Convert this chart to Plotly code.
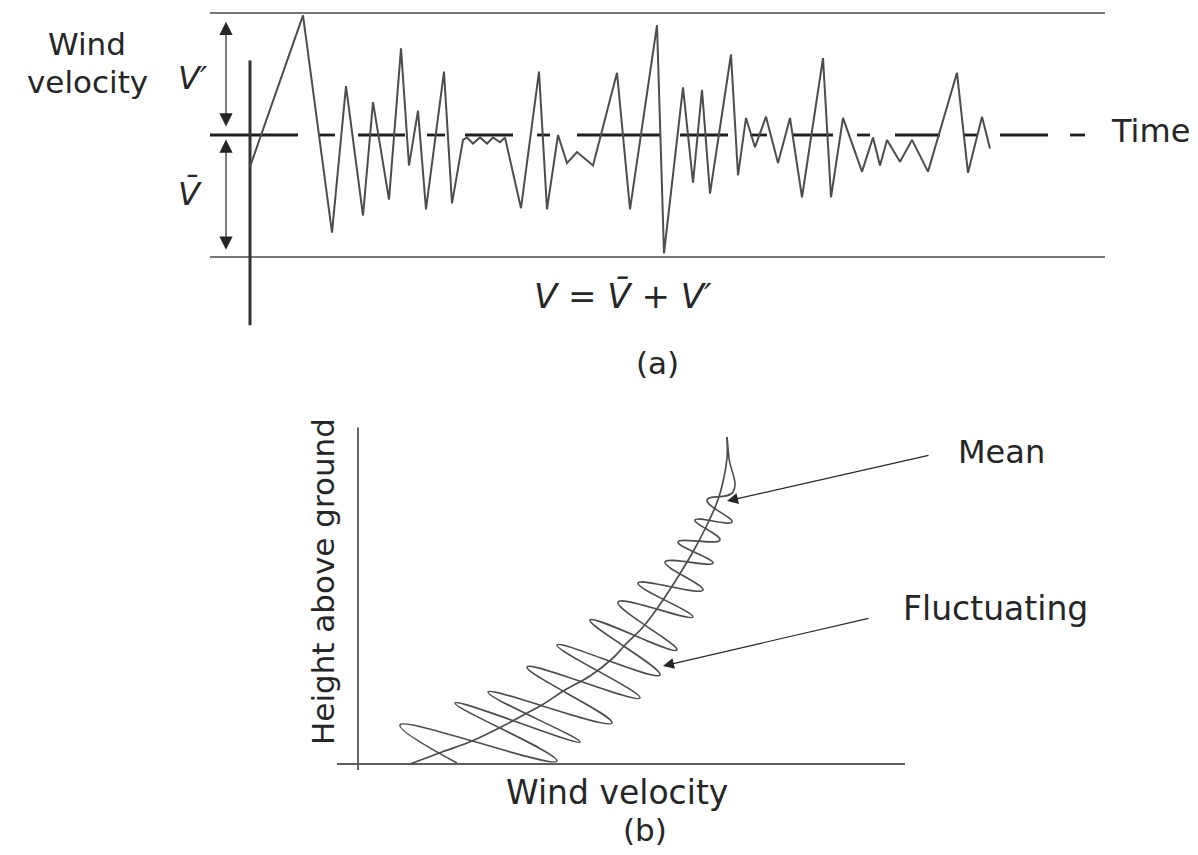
import plotly.graph_objects as go

# ---------------- Panel (a): wind velocity record V = Vbar + V' ----------------
time_s = [0.0, 5.3, 8.2, 9.6, 11.3, 12.3, 13.9, 15.1, 15.9, 16.8, 17.6, 19.4, 20.2,
          21.3, 21.7, 22.3, 23.0, 23.7, 24.3, 25.0, 25.5, 27.1, 28.9, 29.7, 30.8,
          31.7, 32.7, 34.3, 36.7, 38.0, 40.7, 41.4, 43.3, 44.3, 45.2, 46.0, 48.1,
          48.8, 49.6, 50.5, 51.6, 52.8, 54.0, 55.2, 57.3, 58.1, 59.3, 61.2, 62.3,
          63.0, 63.7, 65.0, 66.2, 67.8, 70.7, 71.8, 73.2, 74.0]
velocity = [7.4, 19.8, 2.0, 14.0, 3.4, 12.7, 4.7, 17.1, 7.5, 12.0, 3.9, 15.2, 4.4,
            9.6, 9.8, 9.3, 9.8, 9.3, 9.8, 9.4, 9.8, 4.0, 15.2, 3.9, 10.0,
            7.7, 8.6, 7.5, 15.1, 3.9, 19.0, 0.3, 13.9, 6.1, 13.7, 5.2, 16.6,
            6.7, 11.4, 9.0, 11.5, 7.7, 11.4, 4.9, 16.3, 4.9, 11.4, 7.0, 9.8,
            7.5, 9.6, 7.8, 9.6, 7.0, 15.1, 6.9, 11.5, 8.9]
mean_velocity = 10.0
upper_level = 20.0
lower_level = 0.0
record_start, record_end = -4.0, 85.5
mean_dash_start = [-4.0, 6.8, 10.8, 17.7, 21.5, 28.7, 32.7, 43.0, 50.0, 54.3, 60.7, 64.5, 71.3, 75.0, 82.0]
mean_dash_end = [4.8, 8.5, 15.5, 19.5, 26.3, 30.0, 41.0, 47.8, 51.7, 58.3, 62.0, 69.0, 72.8, 79.8, 83.5]
axis_a_bottom, axis_a_top = -5.6, 16.1
arrow_a_time = -2.4

# ---------------- Panel (b): velocity profile with height ----------------
mean_profile_u = [5.2, 8.4, 11.4, 14.7, 16.9, 18.4, 20.7, 23.2, 25.5, 26.7, 28.5, 30.5,
                  32.3, 33.6, 34.8, 35.8, 36.3, 36.9, 36.9]
mean_profile_h = [0.0, 1.2, 2.3, 3.9, 5.1, 5.9, 7.4, 8.8, 10.6, 11.9, 13.7, 16.4,
                  19.2, 21.4, 23.7, 25.9, 27.4, 30.6, 32.7]
fluct_profile_u = [9.9, 4.2, 19.9, 9.7, 22.2, 13.0, 25.4, 16.9, 28.2, 19.9, 30.2, 23.2,
                   31.9, 26.0, 33.5, 28.0, 34.5, 30.7, 35.5, 32.0, 36.2, 33.7, 37.4,
                   34.9, 37.5, 37.1, 36.9]
fluct_profile_h = [0.1, 3.9, 0.3, 6.1, 2.2, 7.2, 4.1, 9.7, 6.6, 11.9, 8.9, 14.4,
                   11.4, 16.2, 14.7, 18.1, 17.4, 20.2, 20.1, 22.2, 22.4, 24.4, 24.2,
                   26.4, 27.2, 30.6, 32.7]
axis_b_u = [-2.1, 54.7]
axis_b_h = [-0.6, 33.9]
mean_arrow = dict(tip=(36.9, 26.3), tail=(57.2, 30.9))
fluct_arrow = dict(tip=(30.5, 9.8), tail=(51.2, 14.6))

W, H = 1198, 855
INK = "#262626"
LINE = "#4a4a4a"
FONT = "DejaVu Sans"


def paper(px, py):
    return px / W, 1 - py / H


fig = go.Figure()

# ---- panel (a) traces ----
for lvl in (upper_level, lower_level):
    fig.add_trace(go.Scatter(x=[record_start, record_end], y=[lvl, lvl], mode="lines",
                             line=dict(color=LINE, width=1.7), xaxis="x", yaxis="y",
                             hoverinfo="skip", showlegend=False))
dx, dy = [], []
for s, e in zip(mean_dash_start, mean_dash_end):
    dx += [s, e, None]
    dy += [mean_velocity, mean_velocity, None]
fig.add_trace(go.Scatter(x=dx, y=dy, mode="lines", line=dict(color="#1e1e1e", width=2.8),
                         xaxis="x", yaxis="y", hoverinfo="skip", showlegend=False))
fig.add_trace(go.Scatter(x=[0, 0], y=[axis_a_bottom, axis_a_top], mode="lines",
                         line=dict(color="#333333", width=3), xaxis="x", yaxis="y",
                         hoverinfo="skip", showlegend=False))
fig.add_trace(go.Scatter(x=time_s, y=velocity, mode="lines",
                         line=dict(color="#4d4d4d", width=2), xaxis="x", yaxis="y",
                         hoverinfo="skip", showlegend=False))

# ---- panel (b) traces ----
fig.add_trace(go.Scatter(x=axis_b_u, y=[0, 0], mode="lines", line=dict(color="#5e5e5e", width=1.9),
                         xaxis="x2", yaxis="y2", hoverinfo="skip", showlegend=False))
fig.add_trace(go.Scatter(x=[0, 0], y=axis_b_h, mode="lines", line=dict(color="#5e5e5e", width=1.9),
                         xaxis="x2", yaxis="y2", hoverinfo="skip", showlegend=False))
fig.add_trace(go.Scatter(x=mean_profile_u, y=mean_profile_h, mode="lines", line_shape="spline",
                         line=dict(color="#4d4d4d", width=1.7), xaxis="x2", yaxis="y2",
                         hoverinfo="skip", showlegend=False))
fig.add_trace(go.Scatter(x=fluct_profile_u, y=fluct_profile_h, mode="lines", line_shape="spline",
                         line=dict(color="#4d4d4d", width=1.6, smoothing=1.3), xaxis="x2", yaxis="y2",
                         hoverinfo="skip", showlegend=False))

ann = []
# double arrows in panel (a)
for y0, y1 in ((upper_level - 0.6, mean_velocity + 0.7), (mean_velocity - 0.25, lower_level + 0.6)):
    ann.append(dict(x=arrow_a_time, y=y1, ax=arrow_a_time, ay=y0, xref="x", yref="y",
                    axref="x", ayref="y", text="", showarrow=True, arrowhead=2,
                    arrowside="end+start", arrowsize=2.2, arrowwidth=1.2, arrowcolor=INK))
# arrows in panel (b)
for a in (mean_arrow, fluct_arrow):
    ann.append(dict(x=a["tip"][0], y=a["tip"][1], ax=a["tail"][0], ay=a["tail"][1],
                    xref="x2", yref="y2", axref="x2", ayref="y2", text="", showarrow=True,
                    arrowhead=2, arrowsize=2.0, arrowwidth=1.1, arrowcolor=INK))


def label(text, px, py, size=30, angle=0, italic=False):
    x, y = paper(px, py)
    t = f"<i>{text}</i>" if italic else text
    ann.append(dict(x=x, y=y, xref="paper", yref="paper", text=t, showarrow=False,
                    textangle=angle, xanchor="center", yanchor="middle",
                    font=dict(family=FONT, size=size, color=INK)))


label("Wind", 87, 44, size=31)
label("velocity", 87, 82, size=31)
label("V\u2032", 193, 78, size=32, italic=True)
label("V\u0304", 190, 193, size=32, italic=True)
label("Time", 1150, 131, size=32)
label("V = V\u0304 + V\u2032", 623, 296, size=34, italic=True)
label("(a)", 657, 363, size=31)
label("Height above ground", 323, 582, size=31, angle=-90)
label("Wind velocity", 617, 792, size=33)
label("(b)", 645, 830, size=31)
label("Mean", 1001, 452, size=32)
label("Fluctuating", 995, 608, size=33)

fig.update_layout(
    width=W, height=H, margin=dict(l=0, r=0, t=0, b=0),
    paper_bgcolor="white", plot_bgcolor="white", showlegend=False,
    xaxis=dict(domain=[0, 1], range=[-25, 94.8], visible=False, anchor="y"),
    yaxis=dict(domain=[0.5, 1], range=[-13.975, 21.066], visible=False, anchor="x"),
    xaxis2=dict(domain=[0, 1], range=[-35.8, 84.0], visible=False, anchor="y2"),
    yaxis2=dict(domain=[0, 0.5], range=[-9.1, 33.65], visible=False, anchor="x2"),
    annotations=ann,
)

fig.write_html("out.html", config={"displayModeBar": False},
               post_script="document.body.style.margin='0';document.body.style.overflow='hidden';")
